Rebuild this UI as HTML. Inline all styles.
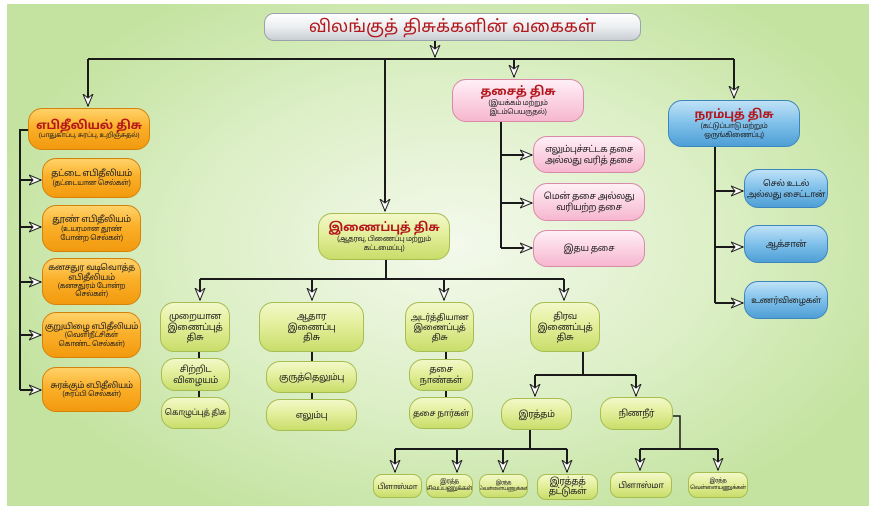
<!DOCTYPE html>
<html><head><meta charset="utf-8">
<style>
*{margin:0;padding:0;box-sizing:border-box}
body{width:873px;height:513px;background:#fff;position:relative;overflow:hidden;font-family:"Liberation Sans","Noto Sans Tamil","Lohit Tamil",sans-serif}
#bg{position:absolute;left:7px;top:4px;width:862px;height:502px;background:radial-gradient(ellipse 55% 60% at 52% 48%,#f4f9ec 0%,#dcefc6 55%,#c4e3a0 100%)}
svg{position:absolute;left:0;top:0}
.b{position:absolute;display:flex;flex-direction:column;align-items:center;justify-content:center;text-align:center;color:#222;font-size:9px;line-height:1.2;border-radius:14px;white-space:nowrap;letter-spacing:-0.4px;overflow:hidden}
.o{background:linear-gradient(#ffd36a,#fbb02a 45%,#f29a0e);border:1px solid #d4820c}
.g{background:linear-gradient(#f3f8c8,#e4ef9c 45%,#c9dd6a);border:1px solid #a6bd52}
.p{background:linear-gradient(#fff0f6,#fbd3e3 50%,#f6b7cf);border:1px solid #d88aa8}
.u{background:linear-gradient(#bfe2f7,#7fc0ea 50%,#4e9fd6);border:1px solid #3d86bd}
.t{color:#b3161b;font-weight:bold;letter-spacing:-0.2px}
.s{font-size:7px;letter-spacing:-0.3px;line-height:1.3}
</style></head><body>
<div id="bg"></div>
<svg width="873" height="513" viewBox="0 0 873 513">
<defs><marker id="a" markerWidth="14" markerHeight="12" refX="12" refY="6" orient="auto" markerUnits="userSpaceOnUse"><path d="M0,1 L12,6 L0,11 L4,6 Z" fill="#fff" stroke="#222" stroke-width="1"/></marker></defs>
<g stroke="#1a1a1a" stroke-width="2" fill="none">
<line x1="435" y1="41" x2="435" y2="57" marker-end="url(#a)"/>
<polyline points="88,59 734,59"/>
<line x1="88" y1="59" x2="88" y2="106" marker-end="url(#a)"/>
<line x1="385" y1="59" x2="385" y2="211" marker-end="url(#a)"/>
<line x1="514" y1="59" x2="514" y2="77" marker-end="url(#a)"/>
<line x1="734" y1="59" x2="734" y2="98" marker-end="url(#a)"/>
<polyline points="28,130 20,130 20,390"/>
<line x1="20" y1="180" x2="41" y2="180" marker-end="url(#a)"/>
<line x1="20" y1="227" x2="41" y2="227" marker-end="url(#a)"/>
<line x1="20" y1="282" x2="41" y2="282" marker-end="url(#a)"/>
<line x1="20" y1="335" x2="41" y2="335" marker-end="url(#a)"/>
<line x1="20" y1="390" x2="41" y2="390" marker-end="url(#a)"/>
<polyline points="501,122 501,248"/>
<line x1="501" y1="155" x2="532" y2="155" marker-end="url(#a)"/>
<line x1="501" y1="203" x2="532" y2="203" marker-end="url(#a)"/>
<line x1="501" y1="248" x2="532" y2="248" marker-end="url(#a)"/>
<polyline points="715,147 715,303"/>
<line x1="715" y1="191" x2="743" y2="191" marker-end="url(#a)"/>
<line x1="715" y1="247" x2="743" y2="247" marker-end="url(#a)"/>
<line x1="715" y1="303" x2="743" y2="303" marker-end="url(#a)"/>
<line x1="386" y1="260" x2="386" y2="279"/>
<polyline points="200,279 564,279"/>
<line x1="200" y1="279" x2="200" y2="300" marker-end="url(#a)"/>
<line x1="312" y1="279" x2="312" y2="300" marker-end="url(#a)"/>
<line x1="444" y1="279" x2="444" y2="300" marker-end="url(#a)"/>
<line x1="564" y1="279" x2="564" y2="300" marker-end="url(#a)"/>
<line x1="199" y1="352" x2="199" y2="397"/>
<line x1="312" y1="352" x2="312" y2="399"/>
<line x1="446" y1="352" x2="446" y2="397"/>
<polyline points="583,352 583,375"/>
<polyline points="535,375 636,375"/>
<line x1="535" y1="375" x2="535" y2="396" marker-end="url(#a)"/>
<line x1="636" y1="375" x2="636" y2="396" marker-end="url(#a)"/>
<line x1="530" y1="430" x2="530" y2="449"/>
<polyline points="395,449 567,449"/>
<line x1="395" y1="449" x2="395" y2="472" marker-end="url(#a)"/>
<line x1="457" y1="449" x2="457" y2="472" marker-end="url(#a)"/>
<line x1="503" y1="449" x2="503" y2="472" marker-end="url(#a)"/>
<line x1="567" y1="449" x2="567" y2="472" marker-end="url(#a)"/>
<polyline points="673,416 680,416 680,449" stroke-width="1.5"/>
<polyline points="640,449 718,449"/>
<line x1="640" y1="449" x2="640" y2="470" marker-end="url(#a)"/>
<line x1="718" y1="449" x2="718" y2="470" marker-end="url(#a)"/>
</g></svg>

<div class="b" style="left:264px;top:13px;width:377px;height:28px;border-radius:10px;background:linear-gradient(#fff,#eceef0 50%,#c9ced3);border:1px solid #9aa3ab;font-size:17px;color:#b3161b;letter-spacing:0">விலங்குத் திசுக்களின் வகைகள்</div>

<div class="b o" style="left:28px;top:108px;width:122px;height:42px"><span class="t" style="font-size:12px">எபிதீலியல் திசு</span><span class="s" style="font-size:6.5px">(பாதுகாப்பு, சுரப்பு, உறிஞ்சுதல்)</span></div>
<div class="b o" style="left:42px;top:158px;width:99px;height:40px">தட்டை எபிதீலியம்<span class="s">(தட்டையான செல்கள்)</span></div>
<div class="b o" style="left:42px;top:205px;width:99px;height:47px">தூண் எபிதீலியம்<span class="s">(உயரமான தூண்<br>போன்ற செல்கள்)</span></div>
<div class="b o" style="left:42px;top:258px;width:99px;height:47px;line-height:1.15"><span style="font-size:8.5px">கனசதுர வடிவொத்த</span><span style="font-size:8.5px">எபிதீலியம்</span><span class="s" style="line-height:1.2">(கனசதுரம் போன்ற<br>செல்கள்)</span></div>
<div class="b o" style="left:42px;top:312px;width:99px;height:46px"><span style="font-size:8.5px">குறுயிழை எபிதீலியம்</span><span class="s">(வெளிநீட்சிகள்<br>கொண்ட செல்கள்)</span></div>
<div class="b o" style="left:42px;top:367px;width:99px;height:45px"><span style="font-size:8.5px">சுரக்கும் எபிதீலியம்</span><span class="s">(சுரப்பி செல்கள்)</span></div>

<div class="b g" style="left:318px;top:213px;width:132px;height:47px"><span class="t" style="font-size:12px">இணைப்புத் திசு</span><span class="s">(ஆதரவு, பிணைப்பு மற்றும்<br>கட்டமைப்பு)</span></div>
<div class="b g" style="left:160px;top:302px;width:70px;height:50px">முறையான<br>இணைப்புத்<br>திசு</div>
<div class="b g" style="left:161px;top:358px;width:69px;height:33px">சிற்றிட<br>விழையம்</div>
<div class="b g" style="left:161px;top:397px;width:69px;height:32px;font-size:8px">கொழுப்புத் திசு</div>
<div class="b g" style="left:259px;top:302px;width:105px;height:50px">ஆதார<br>இணைப்பு<br>திசு</div>
<div class="b g" style="left:266px;top:361px;width:91px;height:32px">குருத்தெலும்பு</div>
<div class="b g" style="left:266px;top:399px;width:91px;height:32px">எலும்பு</div>
<div class="b g" style="left:405px;top:302px;width:69px;height:50px;font-size:8.5px">அடர்த்தியான<br>இணைப்புத்<br>திசு</div>
<div class="b g" style="left:409px;top:359px;width:64px;height:32px">தசை<br>நாண்கள்</div>
<div class="b g" style="left:409px;top:397px;width:64px;height:32px;font-size:8.5px">தசை நார்கள்</div>
<div class="b g" style="left:530px;top:302px;width:70px;height:50px">திரவ<br>இணைப்புத்<br>திசு</div>
<div class="b g" style="left:501px;top:398px;width:71px;height:32px">இரத்தம்</div>
<div class="b g" style="left:600px;top:397px;width:73px;height:33px">நிணநீர்</div>
<div class="b g" style="left:373px;top:474px;width:49px;height:24px;border-radius:9px;font-size:7.5px">பிளாஸ்மா</div>
<div class="b g" style="left:426px;top:474px;width:47px;height:24px;border-radius:9px;font-size:6px;line-height:1.2">இரத்த<br>சிவப்பணுக்கள்</div>
<div class="b g" style="left:479px;top:474px;width:49px;height:24px;border-radius:9px;font-size:5px;line-height:1.2">இரத்த<br>வெள்ளையணுக்கள்</div>
<div class="b g" style="left:537px;top:474px;width:61px;height:26px;border-radius:9px;line-height:1.1">இரத்தத்<br>தட்டுகள்</div>
<div class="b g" style="left:610px;top:472px;width:62px;height:26px;border-radius:9px;font-size:8.5px">பிளாஸ்மா</div>
<div class="b g" style="left:688px;top:472px;width:60px;height:26px;border-radius:9px;font-size:5.5px;line-height:1.2">இரத்த<br>வெள்ளையணுக்கள்</div>

<div class="b p" style="left:452px;top:79px;width:132px;height:43px"><span class="t" style="font-size:12px">தசைத் திசு</span><span class="s">(இயக்கம் மற்றும்<br>இடம்பெயருதல்)</span></div>
<div class="b p" style="left:533px;top:136px;width:112px;height:37px">எலும்புச்சட்டக தசை<br>அல்லது வரித் தசை</div>
<div class="b p" style="left:533px;top:183px;width:112px;height:38px">மென் தசை அல்லது<br>வரியற்ற தசை</div>
<div class="b p" style="left:533px;top:230px;width:112px;height:37px">இதய தசை</div>

<div class="b u" style="left:668px;top:100px;width:132px;height:47px"><span class="t" style="font-size:12px">நரம்புத் திசு</span><span class="s">(கட்டுப்பாடு மற்றும்<br>ஒருங்கிணைப்பு)</span></div>
<div class="b u" style="left:744px;top:169px;width:84px;height:39px;font-size:8.5px">செல் உடல்<br>அல்லது சைட்டான்</div>
<div class="b u" style="left:744px;top:225px;width:84px;height:38px">ஆக்சான்</div>
<div class="b u" style="left:744px;top:281px;width:84px;height:38px;font-size:8.5px">உணர்விழைகள்</div>
</body></html>
